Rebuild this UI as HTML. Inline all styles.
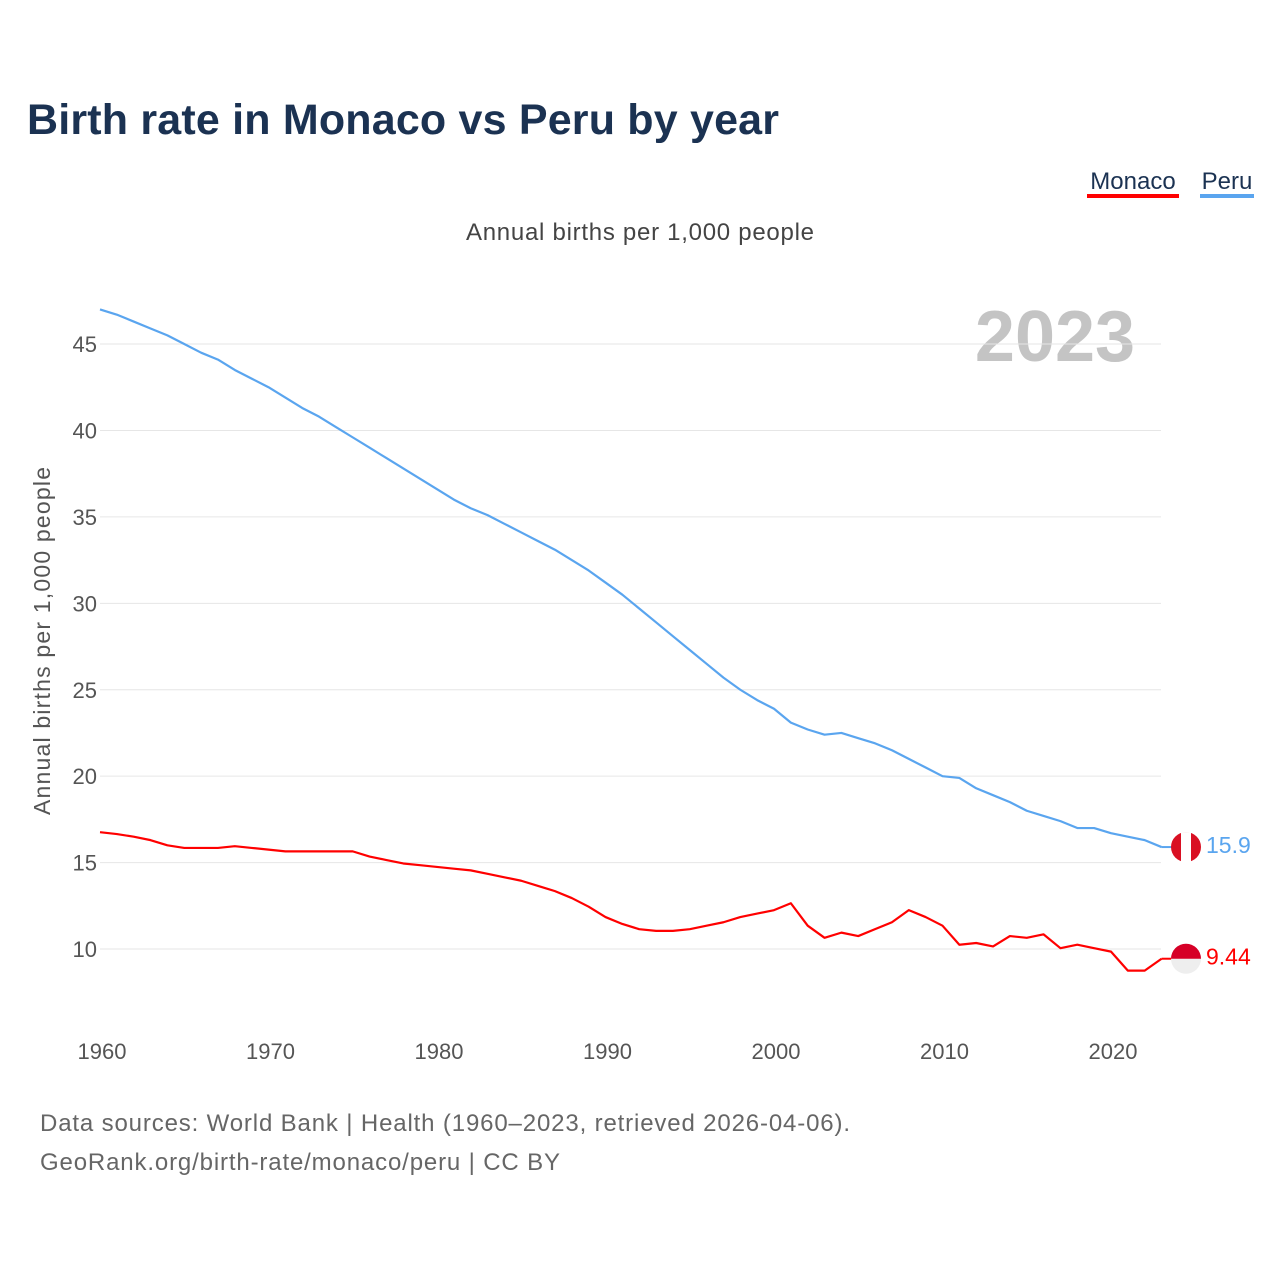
<!DOCTYPE html>
<html><head><meta charset="utf-8"><style>
body{margin:0;background:#fff;font-family:"Liberation Sans",sans-serif;}
svg{display:block}
</style></head><body>
<svg id="chart" width="1280" height="1280">
<text x="27" y="134" font-size="43" font-weight="bold" fill="#1b3252" textLength="752">Birth rate in Monaco vs Peru by year</text>
<g><text x="1133" y="189" font-size="24" fill="#1b3252" text-anchor="middle">Monaco</text><rect x="1087" y="194" width="92" height="4" fill="#ff0000"/></g>
<g><text x="1227" y="189" font-size="24" fill="#1b3252" text-anchor="middle">Peru</text><rect x="1200" y="194" width="54" height="4" fill="#5aa5ef"/></g>
<text x="466" y="240" font-size="24" fill="#444" textLength="348">Annual births per 1,000 people</text>
<text x="1055" y="361" font-size="72" font-weight="bold" fill="#c4c4c4" text-anchor="middle">2023</text>
<text transform="translate(50,815) rotate(-90)" font-size="23" fill="#555" textLength="348">Annual births per 1,000 people</text>
<g id="grid"></g><g id="series"></g>
<text x="40" y="1131" font-size="24" fill="#666" textLength="810">Data sources: World Bank | Health (1960–2023, retrieved 2026-04-06).</text>
<text x="40" y="1170" font-size="24" fill="#666" textLength="520">GeoRank.org/birth-rate/monaco/peru | CC BY</text>
</svg>
<script>
const years=[];for(let y=1960;y<=2023;y++)years.push(y);
const monaco=[16.76,16.65,16.5,16.3,16.0,15.85,15.85,15.85,15.95,15.85,15.75,15.65,15.65,15.65,15.65,15.65,15.35,15.15,14.95,14.85,14.75,14.65,14.55,14.35,14.15,13.95,13.65,13.35,12.95,12.45,11.85,11.45,11.15,11.05,11.05,11.15,11.35,11.55,11.85,12.05,12.25,12.65,11.35,10.65,10.95,10.75,11.15,11.55,12.25,11.85,11.35,10.25,10.35,10.15,10.75,10.65,10.85,10.05,10.25,10.05,9.85,8.75,8.75,9.44];
const peru=[47.0,46.7,46.3,45.9,45.5,45.0,44.5,44.1,43.5,43.0,42.5,41.9,41.3,40.8,40.2,39.6,39.0,38.4,37.8,37.2,36.6,36.0,35.5,35.1,34.6,34.1,33.6,33.1,32.5,31.9,31.2,30.5,29.7,28.9,28.1,27.3,26.5,25.7,25.0,24.4,23.9,23.1,22.7,22.4,22.5,22.2,21.9,21.5,21.0,20.5,20.0,19.9,19.3,18.9,18.5,18.0,17.7,17.4,17.0,17.0,16.7,16.5,16.3,15.9];
const yTicks=[10,15,20,25,30,35,40,45];
const xTicks=[1960,1970,1980,1990,2000,2010,2020];
const X=y=>100+(y-1960)*16.85;
const Y=v=>1121.9-v*17.286;
const NS="http://www.w3.org/2000/svg";
const grid=document.getElementById('grid'),ser=document.getElementById('series');
function mk(tag,attrs,parent){const e=document.createElementNS(NS,tag);for(const k in attrs)e.setAttribute(k,attrs[k]);parent.appendChild(e);return e;}
yTicks.forEach(t=>{
 const l=mk('line',{x1:100,x2:1161,y1:Y(t),y2:Y(t),stroke:'#e6e6e6','stroke-width':1},grid);
 
 
 const tx=mk('text',{x:97,y:Y(t)+8,'font-size':22,fill:'#555','text-anchor':'end'},grid);tx.textContent=t;
 
 
});
xTicks.forEach(t=>{
 const tx=mk('text',{x:X(t)+2,y:1059,'font-size':22,fill:'#555','text-anchor':'middle'},grid);tx.textContent=t;
 
 
});
function line(data,color,name){
 const p=mk('polyline',{points:data.map((v,i)=>X(years[i])+','+Y(v)).join(' '),fill:'none',stroke:color,'stroke-width':2.2,'stroke-linejoin':'round'},ser);
 
 
}
line(peru,'#5aa5ef','peru-line');
line(monaco,'#ff0000','monaco-line');
function endLabel(v,color,name){
 const yy=Y(v),x0=X(2023);
 mk('line',{x1:x0,x2:1172,y1:yy,y2:yy,stroke:color,'stroke-width':2},ser);
 const g=mk('g',{},ser);
 
 
 if(name==='peru'){
  mk('circle',{cx:1186,cy:yy,r:15,fill:'#d91023'},g);
  mk('rect',{x:1181,y:yy-15,width:10,height:30,fill:'#fff'},g);
 }else{
  mk('circle',{cx:1186,cy:yy,r:15,fill:'#eee'},g);
  mk('path',{d:`M1171 ${yy} A15 15 0 0 1 1201 ${yy} Z`,fill:'#d60027'},g);
 }
 const t=mk('text',{x:1206,y:yy+6,'font-size':23,fill:color},ser);t.textContent=v;
 
 
}
endLabel(peru[peru.length-1],'#5aa5ef','peru');
endLabel(monaco[monaco.length-1],'#ff0000','monaco');
</script>
</body></html>
